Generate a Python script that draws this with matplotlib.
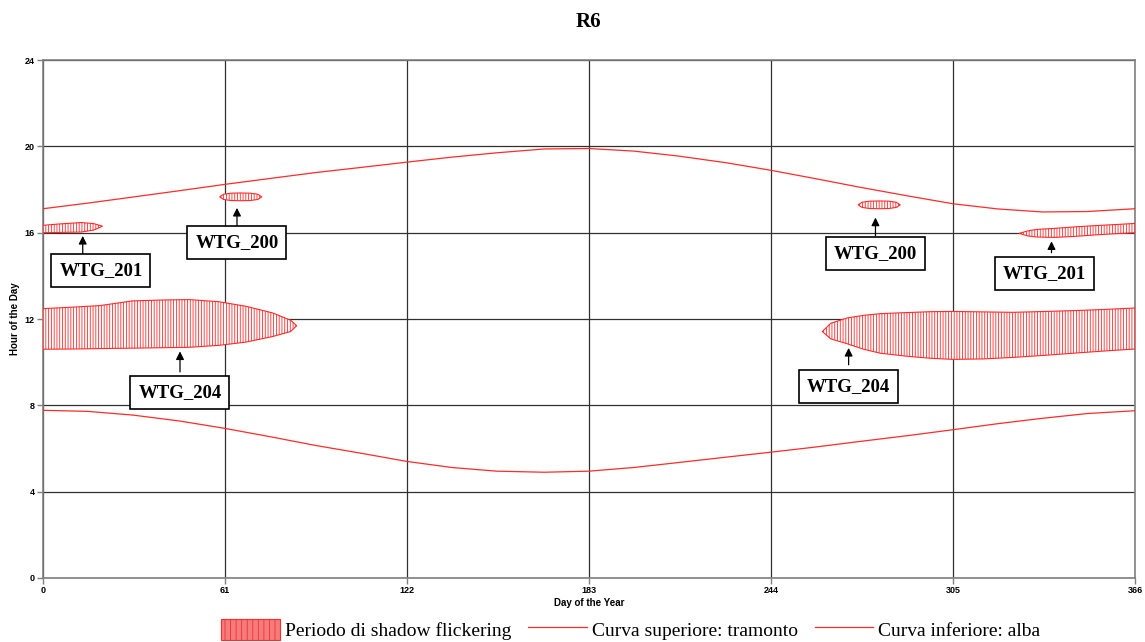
import matplotlib
matplotlib.use("Agg")
import matplotlib.pyplot as plt
from matplotlib.patches import Patch
from matplotlib.lines import Line2D

# sunset / sunrise curves (hour of the day) sampled over the year
curve_days = [0, 15, 30, 46, 61, 76, 91, 107, 122, 137, 152, 168, 183,
              198, 213, 229, 244, 259, 274, 290, 305, 320, 335, 350, 366]
sunset = [17.11, 17.37, 17.65, 17.95, 18.24, 18.51, 18.78, 19.03, 19.27, 19.50,
          19.70, 19.88, 19.90, 19.78, 19.55, 19.24, 18.89, 18.50, 18.10, 17.70,
          17.34, 17.10, 16.96, 16.98, 17.11]
sunrise = [7.77, 7.72, 7.55, 7.27, 6.93, 6.55, 6.15, 5.77, 5.40, 5.12,
           4.95, 4.90, 4.95, 5.12, 5.35, 5.60, 5.83, 6.07, 6.33, 6.60,
           6.87, 7.15, 7.40, 7.62, 7.75]

# shadow flicker windows: (days, lower hour, upper hour)
wtg204_a_days = [0, 10, 19, 30, 40, 49, 59, 68, 77, 83, 85]
wtg204_a_low = [10.60, 10.61, 10.63, 10.65, 10.67, 10.69, 10.78, 10.93, 11.19, 11.42, 11.69]
wtg204_a_high = [12.48, 12.55, 12.62, 12.84, 12.88, 12.90, 12.80, 12.59, 12.28, 11.94, 11.69]

wtg204_b_days = [261.2, 264, 269.6, 275, 280.8, 290, 297.5, 305, 315, 325, 336, 347.8, 357, 366]
wtg204_b_low = [11.42, 11.08, 10.85, 10.60, 10.41, 10.27, 10.18, 10.13, 10.15, 10.22, 10.32, 10.44, 10.53, 10.61]
wtg204_b_high = [11.42, 11.80, 12.05, 12.17, 12.25, 12.30, 12.34, 12.35, 12.33, 12.31, 12.35, 12.40, 12.45, 12.51]

wtg201_a_days = [0, 5, 12.8, 17, 19.9]
wtg201_a_low = [16.00, 16.01, 16.03, 16.12, 16.30]
wtg201_a_high = [16.34, 16.40, 16.47, 16.42, 16.30]

wtg200_a_days = [59.2, 60.5, 63, 66.25, 69.5, 72, 73.3]
wtg200_a_low = [17.66, 17.54, 17.49, 17.48, 17.49, 17.54, 17.66]
wtg200_a_high = [17.66, 17.78, 17.83, 17.84, 17.83, 17.78, 17.66]

wtg200_b_days = [273.2, 274.5, 277, 280.25, 283.5, 286, 287.3]
wtg200_b_low = [17.29, 17.17, 17.12, 17.11, 17.12, 17.17, 17.29]
wtg200_b_high = [17.29, 17.41, 17.46, 17.47, 17.46, 17.41, 17.29]

wtg201_b_days = [327.2, 330, 333, 339, 346, 353, 360, 366]
wtg201_b_low = [15.97, 15.85, 15.80, 15.78, 15.83, 15.90, 15.96, 16.00]
wtg201_b_high = [15.97, 16.08, 16.15, 16.20, 16.27, 16.33, 16.38, 16.43]

# turbine labels: text, box centre (day, hour), arrow tail / head (day, hour)
labels = [
    ("WTG_201", (19.4, 14.25), (13.3, 14.45), (13.3, 15.85)),
    ("WTG_200", (65.0, 15.55), (65.0, 16.05), (65.0, 17.15)),
    ("WTG_204", (45.9, 8.58), (45.9, 9.55), (45.9, 10.50)),
    ("WTG_200", (279.0, 15.03), (279.0, 15.85), (279.0, 16.70)),
    ("WTG_201", (335.5, 14.10), (338.0, 15.07), (338.0, 15.60)),
    ("WTG_204", (270.0, 8.86), (270.0, 9.88), (270.0, 10.66)),
]

xticks = [0, 61, 122, 183, 244, 305, 366]
yticks = [0, 4, 8, 12, 16, 20, 24]

RED = "#ff2a2a"
plt.rcParams["hatch.linewidth"] = 0.6

fig = plt.figure(figsize=(11.45, 6.42), dpi=100)
ax = fig.add_axes([0.0376, 0.0997, 0.9537, 0.8068])

ax.plot(curve_days, sunset, color=RED, lw=0.9, zorder=3)
ax.plot(curve_days, sunrise, color=RED, lw=0.9, zorder=3)

windows = [
    (wtg204_a_days, wtg204_a_low, wtg204_a_high),
    (wtg204_b_days, wtg204_b_low, wtg204_b_high),
    (wtg201_a_days, wtg201_a_low, wtg201_a_high),
    (wtg200_a_days, wtg200_a_low, wtg200_a_high),
    (wtg200_b_days, wtg200_b_low, wtg200_b_high),
    (wtg201_b_days, wtg201_b_low, wtg201_b_high),
]
for d, lo, hi in windows:
    ax.fill_between(d, lo, hi, facecolor="white", edgecolor=RED,
                    hatch="||||||", lw=0.8, zorder=3)

for text, centre, tail, head in labels:
    ax.annotate("", xy=head, xytext=tail,
                arrowprops=dict(arrowstyle="-|>", color="black", lw=0.9,
                                mutation_scale=12, shrinkA=0, shrinkB=0),
                zorder=4)
    ax.text(centre[0], centre[1], text, ha="center", va="center",
            family="Liberation Serif", weight="bold", fontsize=13.5, zorder=5,
            bbox=dict(boxstyle="square,pad=0.42", fc="white", ec="black", lw=1.2))

ax.set_xlim(0, 366)
ax.set_ylim(0, 24)
ax.set_xticks(xticks)
ax.set_yticks(yticks)
ax.grid(True, color="#303030", lw=0.9)
ax.set_axisbelow(True)
for s in ax.spines.values():
    s.set_color("#808080")
    s.set_linewidth(1.2)
ax.tick_params(length=4, width=1, color="#808080", labelsize=6.5, pad=2)
for lab in ax.get_xticklabels() + ax.get_yticklabels():
    lab.set_family("Liberation Sans")
    lab.set_weight("bold")
ax.set_xlabel("Day of the Year", family="Liberation Sans", weight="bold", fontsize=7, labelpad=2)
ax.set_ylabel("Hour of the Day", family="Liberation Sans", weight="bold", fontsize=7, labelpad=3)

fig.text(0.514, 0.965, "R6", ha="center", va="center",
         family="Liberation Serif", weight="bold", fontsize=15)

handles = [
    Patch(facecolor="#f47c7c", edgecolor=RED, hatch="|||", lw=0.8),
    Line2D([], [], color=RED, lw=0.9),
    Line2D([], [], color=RED, lw=0.9),
]
names = ["Periodo di shadow flickering", "Curva superiore: tramonto", "Curva inferiore: alba"]
fig.legend(handles, names, loc="lower center", bbox_to_anchor=(0.551, -0.024), ncol=3,
           frameon=False, prop={"family": "Liberation Serif", "size": 14},
           handlelength=3.0, handleheight=1.3, handletextpad=0.25, columnspacing=0.9)

fig.savefig("out.png", dpi=100)
